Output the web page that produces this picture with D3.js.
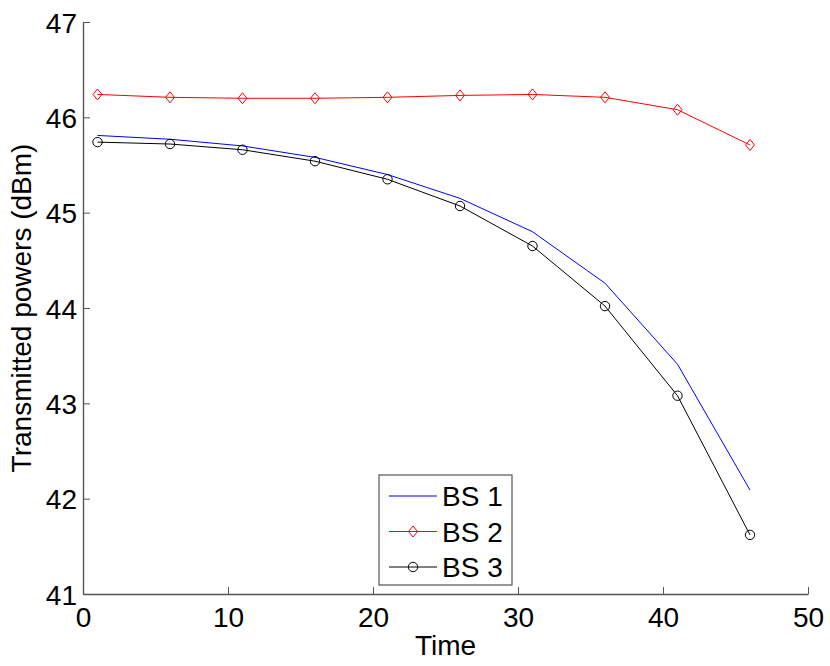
<!DOCTYPE html>
<html>
<head>
<meta charset="utf-8">
<script src="https://cdn.jsdelivr.net/npm/d3@7"></script>
<style>
  body { margin: 0; background: #fff; }
  text { font-family: "Liberation Sans", Arial, Helvetica, sans-serif; fill: #000; }
</style>
</head>
<body>
<div id="chart"></div>
<script>
// data
const times = [1, 6, 11, 16, 21, 26, 31, 36, 41, 46];
const bs1 = [45.81, 45.77, 45.70, 45.58, 45.40, 45.15, 44.80, 44.26, 43.41, 42.09];
const bs2 = [46.24, 46.21, 46.20, 46.20, 46.21, 46.23, 46.24, 46.21, 46.08, 45.71];
const bs3 = [45.74, 45.72, 45.66, 45.54, 45.35, 45.07, 44.65, 44.02, 43.08, 41.62];
const xTicks = [0, 10, 20, 30, 40, 50];
const yTicks = [41, 42, 43, 44, 45, 46, 47];

const series = [
    { name: "BS 1", values: bs1, color: "#0000ff", marker: "none" },
    { name: "BS 2", values: bs2, color: "#ff0000", marker: "diamond" },
    { name: "BS 3", values: bs3, color: "#000000", marker: "circle" },
];

const width = 830, height = 666;
const margin = { top: 22, right: 22, bottom: 72, left: 83 };
const plot_width = width - margin.left - margin.right;
const plot_height = height - margin.top - margin.bottom;

const svg = d3.select("#chart")
    .append("svg")
    .attr("width", width)
    .attr("height", height)
    .append("g")
    .attr("transform", "translate(" + margin.left + "," + margin.top + ")");

const x = d3.scaleLinear().domain([0, 50]).range([0, plot_width]);
const y = d3.scaleLinear().domain([41, 47]).range([plot_height, 0]);

// axes, ticks pointing inward like matlab
const xAxis = svg.append("g")
    .attr("transform", "translate(0," + plot_height + ")")
    .call(d3.axisBottom(x).tickValues(xTicks).tickFormat(d3.format("d")).tickSizeInner(-7).tickSizeOuter(0));
xAxis.selectAll("text").attr("y", 13).attr("dy", "0.71em").style("font-size", "28px");

const yAxis = svg.append("g")
    .call(d3.axisLeft(y).tickValues(yTicks).tickFormat(d3.format("d")).tickSizeInner(-7).tickSizeOuter(0));
yAxis.selectAll("text").attr("x", -6).attr("dy", "0.36em").style("font-size", "28px");

svg.selectAll(".domain").attr("stroke", "#555").attr("stroke-width", 1.4);
svg.selectAll(".tick line").attr("stroke", "#555").attr("stroke-width", 1);

// axis titles
svg.append("text")
    .attr("x", plot_width / 2)
    .attr("y", plot_height + 61)
    .attr("text-anchor", "middle")
    .style("font-size", "28px")
    .text("Time");

svg.append("text")
    .attr("transform", "translate(" + (31 - margin.left) + "," + (plot_height / 2) + ") rotate(-90)")
    .attr("text-anchor", "middle")
    .style("font-size", "28px")
    .text("Transmitted powers (dBm)");

const line = d3.line()
    .x(d => x(d[0]))
    .y(d => y(d[1]));

function drawMarker(g, type, color) {
    if (type === "diamond") {
        g.append("path")
            .attr("d", "M0,-5.5L4.5,0L0,5.5L-4.5,0Z")
            .attr("fill", "none")
            .attr("stroke", color)
            .attr("stroke-width", 1);
    } else if (type === "circle") {
        g.append("circle")
            .attr("r", 4.7)
            .attr("fill", "none")
            .attr("stroke", color)
            .attr("stroke-width", 1);
    }
}

series.forEach(s => {
    const pts = times.map((t, i) => [t, s.values[i]]);
    svg.append("path")
        .datum(pts)
        .attr("d", line)
        .attr("fill", "none")
        .attr("stroke", s.color)
        .attr("stroke-width", 1);
    pts.forEach(p => {
        const g = svg.append("g").attr("transform", "translate(" + x(p[0]) + "," + y(p[1]) + ")");
        drawMarker(g, s.marker, s.color);
    });
});

// legend
const legend = svg.append("g")
    .attr("transform", "translate(" + (379 - margin.left) + "," + (475 - margin.top) + ")");
legend.append("rect")
    .attr("width", 133)
    .attr("height", 110)
    .attr("fill", "#fff")
    .attr("stroke", "#555")
    .attr("stroke-width", 1.2);

series.forEach((s, i) => {
    const row = legend.append("g").attr("transform", "translate(0," + (21 + i * 35.5) + ")");
    row.append("line")
        .attr("x1", 10).attr("x2", 58)
        .attr("stroke", s.color)
        .attr("stroke-width", 1);
    const m = row.append("g").attr("transform", "translate(34,0)");
    drawMarker(m, s.marker, s.color);
    row.append("text")
        .attr("x", 63)
        .attr("dy", "0.36em")
        .style("font-size", "28px")
        .text(s.name);
});
</script>
</body>
</html>
